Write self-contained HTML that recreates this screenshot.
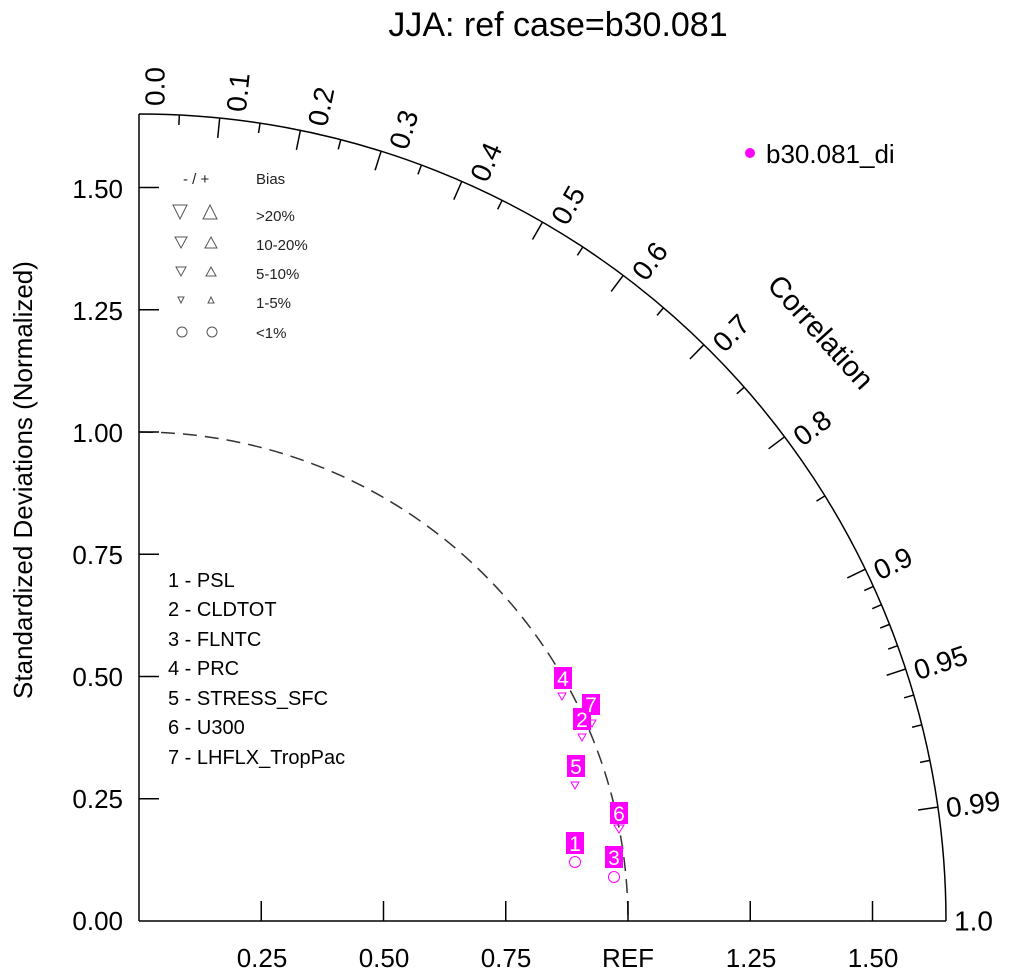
<!DOCTYPE html>
<html><head><meta charset="utf-8"><style>body{margin:0;background:#fff}svg{display:block}text{font-family:"Liberation Sans",sans-serif}</style></head><body>
<svg id="s" width="1016" height="977" xmlns="http://www.w3.org/2000/svg">
<text x="558" y="36" font-size="34" text-anchor="middle">JJA: ref case=b30.081</text>
<text transform="translate(32,480) rotate(-90)" font-size="26" text-anchor="middle">Standardized Deviations (Normalized)</text>
<line x1="139" y1="114" x2="139" y2="921" stroke="#000" stroke-width="1.5"/>
<line x1="139" y1="921" x2="946" y2="921" stroke="#000" stroke-width="1.5"/>
<path d="M139,114 A807,807 0 0 1 946,921" fill="none" stroke="#000" stroke-width="1.5"/>
<path d="M139,432 A489,489 0 0 1 628,921" fill="none" stroke="#333" stroke-width="1.5" stroke-dasharray="14,8"/>
<g font-size="26" text-anchor="end">
<text x="123" y="930">0.00</text><text x="123" y="808">0.25</text><text x="123" y="686">0.50</text><text x="123" y="564">0.75</text><text x="123" y="442">1.00</text><text x="123" y="320">1.25</text><text x="123" y="198">1.50</text>
</g>
<g font-size="26" text-anchor="middle">
<text x="262" y="967">0.25</text><text x="384" y="967">0.50</text><text x="506" y="967">0.75</text><text x="628" y="967">REF</text><text x="751" y="967">1.25</text><text x="873" y="967">1.50</text>
</g>
<g id="ticks" stroke="#000" stroke-width="1.5"></g>
<g id="lab" font-size="28"></g>
<text transform="translate(766,286) rotate(48)" font-size="29">Correlation</text>
<circle cx="750" cy="153" r="5" fill="#f0f"/>
<text x="766" y="163" font-size="26">b30.081_di</text>
<g font-size="15" fill="#222">
<text x="183" y="184">- / +</text><text x="256" y="184">Bias</text>
<text x="256" y="221">&gt;20%</text><text x="256" y="250">10-20%</text><text x="256" y="279">5-10%</text><text x="256" y="308">1-5%</text><text x="256" y="338">&lt;1%</text>
</g>
<g fill="none" stroke="#555" stroke-width="1">
<path d="M173,205 L187,205 L180,219Z"/><path d="M203,219 L217,219 L210,205Z"/>
<path d="M175,237 L187,237 L181,248Z"/><path d="M205,248 L217,248 L211,237Z"/>
<path d="M176,267 L186,267 L181,276Z"/><path d="M206,276 L216,276 L211,267Z"/>
<path d="M178,297 L184,297 L181,303Z"/><path d="M208,303 L214,303 L211,297Z"/>
<circle cx="182" cy="332" r="5"/><circle cx="212" cy="332" r="5"/>
</g>
<g font-size="20">
<text x="168" y="587">1 - PSL</text><text x="168" y="616">2 - CLDTOT</text><text x="168" y="646">3 - FLNTC</text><text x="168" y="675">4 - PRC</text><text x="168" y="705">5 - STRESS_SFC</text><text x="168" y="734">6 - U300</text><text x="168" y="764">7 - LHFLX_TropPac</text>
</g>
<g fill="none" stroke="#f0f" stroke-width="1">
<path d="M558,693 L566,693 L562,700Z"/>
<path d="M588,720 L596,720 L592,727Z"/>
<path d="M578,734 L586,734 L582,741Z"/>
<path d="M571,782 L579,782 L575,789Z"/>
<path d="M614,825 L624,825 L619,833Z"/>
<circle cx="575" cy="862" r="5.5"/><circle cx="614" cy="877" r="5.5"/>
</g>
<g fill="#f0f">
<rect x="554" y="667" width="18" height="22"/><rect x="582" y="694" width="18" height="21"/><rect x="573" y="708" width="18" height="22"/><rect x="567" y="755" width="18" height="22"/><rect x="610" y="802" width="18" height="22"/><rect x="566" y="832" width="18" height="22"/><rect x="605" y="846" width="18" height="22"/>
</g>
<g fill="#fff" font-size="21" text-anchor="middle">
<text x="563" y="686">4</text><text x="591" y="712">7</text><text x="582" y="727">2</text><text x="576" y="774">5</text><text x="619" y="821">6</text><text x="575" y="851">1</text><text x="614" y="865">3</text>
</g>
</svg>
<script>
var cx=139,cy=921,R=807,s=489,ns="http://www.w3.org/2000/svg";
var T=document.getElementById('ticks'),L=document.getElementById('lab');
function ln(x1,y1,x2,y2){var l=document.createElementNS(ns,'line');l.setAttribute('x1',x1);l.setAttribute('y1',y1);l.setAttribute('x2',x2);l.setAttribute('y2',y2);T.appendChild(l);}
for(var i=1;i<=6;i++){var y=cy-i*0.25*s;ln(cx,y,cx+20,y);var x=cx+i*0.25*s;ln(x,cy,x,cy-20);}
var maj=[0.1,0.2,0.3,0.4,0.5,0.6,0.7,0.8,0.9,0.95,0.99],min=[0.05,0.15,0.25,0.35,0.45,0.55,0.65,0.75,0.85,0.91,0.92,0.93,0.94,0.96,0.97,0.98];
function tk(c,len){var t=Math.acos(c);ln(cx+R*Math.cos(t),cy-R*Math.sin(t),cx+(R-len)*Math.cos(t),cy-(R-len)*Math.sin(t));}
maj.forEach(function(c){tk(c,20)});min.forEach(function(c){tk(c,10)});
[0,0.1,0.2,0.3,0.4,0.5,0.6,0.7,0.8,0.9,0.95,0.99,1].forEach(function(c){var t=Math.acos(c),d=t*180/Math.PI,r=R+8,o=16*Math.sin(t);
var x=cx+r*Math.cos(t)+o*Math.sin(t),y=cy-r*Math.sin(t)+o*Math.cos(t);
var e=document.createElementNS(ns,'text');e.setAttribute('transform','translate('+x+','+y+') rotate('+(-d)+')');e.setAttribute('dominant-baseline','central');
e.textContent=(c==0?'0.0':c==1?'1.0':String(c));L.appendChild(e);});
</script>
</body></html>
